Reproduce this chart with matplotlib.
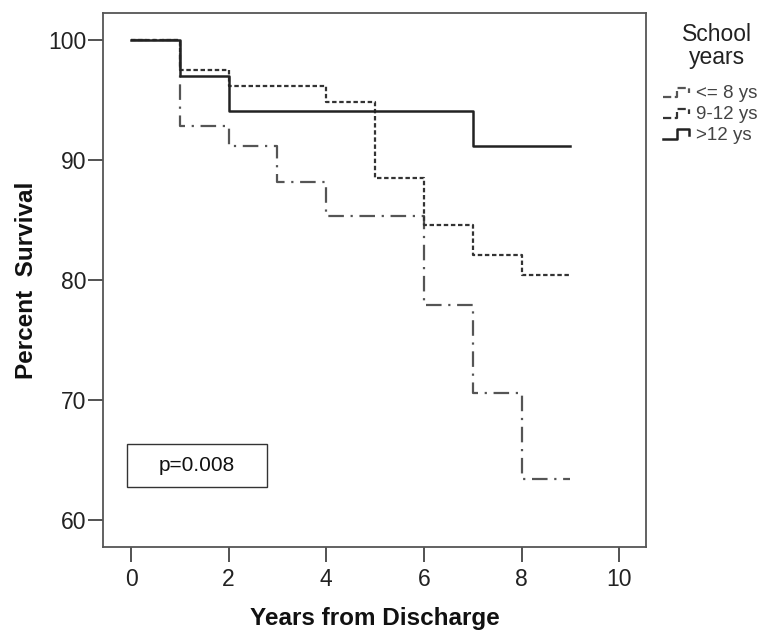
import matplotlib
matplotlib.use('Agg')
import matplotlib.pyplot as plt
from matplotlib.lines import Line2D
from matplotlib.patches import Rectangle
from matplotlib.legend_handler import HandlerBase

# Kaplan-Meier style survival by school years
years = [0, 1, 2, 3, 4, 5, 6, 7, 8, 9]
surv_le8 = [100, 92.8, 91.2, 88.2, 85.3, 85.3, 77.9, 70.6, 63.4, 63.4]
surv_9_12 = [100, 97.5, 96.2, 96.2, 94.8, 88.5, 84.6, 82.1, 80.4, 80.4]
surv_gt12 = [100, 97.0, 94.1, 94.1, 94.1, 94.1, 94.1, 91.2, 91.2, 91.2]
labels = ['<= 8 ys', '9-12 ys', '>12 ys']
x_ticks = [0, 2, 4, 6, 8, 10]
y_ticks = [60, 70, 80, 90, 100]
p_text = 'p=0.008'
legend_title = 'School\nyears'

plt.rcParams['font.family'] = ['Liberation Sans', 'DejaVu Sans']


class StepHandler(HandlerBase):
    # draws a small step icon like SPSS survival legends
    def create_artists(self, legend, orig, xd, yd, w, h, fontsize, trans):
        xs = [xd, xd + w * 0.45, xd + w * 0.45, xd + w * 0.85, xd + w * 0.85]
        ys = [yd + h * 0.1, yd + h * 0.1, yd + h * 0.8, yd + h * 0.8, yd + h * 0.4]
        ln = Line2D(xs, ys, color=orig.get_color(), linestyle=orig.get_linestyle(),
                    linewidth=orig.get_linewidth())
        ln.set_transform(trans)
        return [ln]


fig = plt.figure(figsize=(7.68, 6.31), dpi=100)
ax = fig.add_axes([103 / 768, 84 / 631, 543 / 768, 534 / 631])

l1, = ax.step(years, surv_le8, where='post', color='#555555', lw=1.6,
              linestyle=(0, (7, 3, 1, 3)), label=labels[0])
l2, = ax.step(years, surv_9_12, where='post', color='#333333', lw=1.6,
              linestyle=(0, (2, 1.2)), label=labels[1])
l3, = ax.step(years, surv_gt12, where='post', color='#222222', lw=1.8,
              linestyle='-', label=labels[2])

ax.set_xlim(-0.574, 10.55)
ax.set_ylim(57.75, 102.25)
ax.set_xticks(x_ticks)
ax.set_yticks(y_ticks)
ax.tick_params(direction='out', length=11, width=1.3, labelsize=16.5,
               color='#444444', labelcolor='#222222')
ax.tick_params(axis='x', pad=4)
ax.tick_params(axis='y', pad=1)
for s in ax.spines.values():
    s.set_color('#555555')
    s.set_linewidth(1.3)

ax.set_xlabel('Years from Discharge', fontsize=17.5, fontweight='bold',
              labelpad=12, color='#111111')
ax.set_ylabel('Percent  Survival', fontsize=17.5, fontweight='bold',
              labelpad=7, color='#111111')

# p-value box
ax.add_patch(Rectangle((24 / 543, 60 / 534), 140 / 543, 43 / 534,
                       transform=ax.transAxes, fc='white', ec='#333333', lw=1.0))
ax.text((24 + 70) / 543, (60 + 21.5) / 534, p_text, transform=ax.transAxes,
        fontsize=15, ha='center', va='center', color='#111111')

# legend title drawn on its own, entries below
fig.text(717 / 768, 1 - 46 / 631, legend_title, fontsize=16.5, ha='center',
         va='center', linespacing=1.05, color='#222222')
leg = fig.legend(handles=[l1, l2, l3], labels=labels, loc='upper left',
                 bbox_to_anchor=(663 / 768, 1 - 85 / 631), frameon=False,
                 fontsize=13.5, handlelength=1.6, handletextpad=0.15,
                 labelspacing=0.2, borderpad=0.0, borderaxespad=0.0,
                 handler_map={Line2D: StepHandler()})
for t in leg.get_texts():
    t.set_color('#444444')

fig.savefig('out.png', dpi=100)
